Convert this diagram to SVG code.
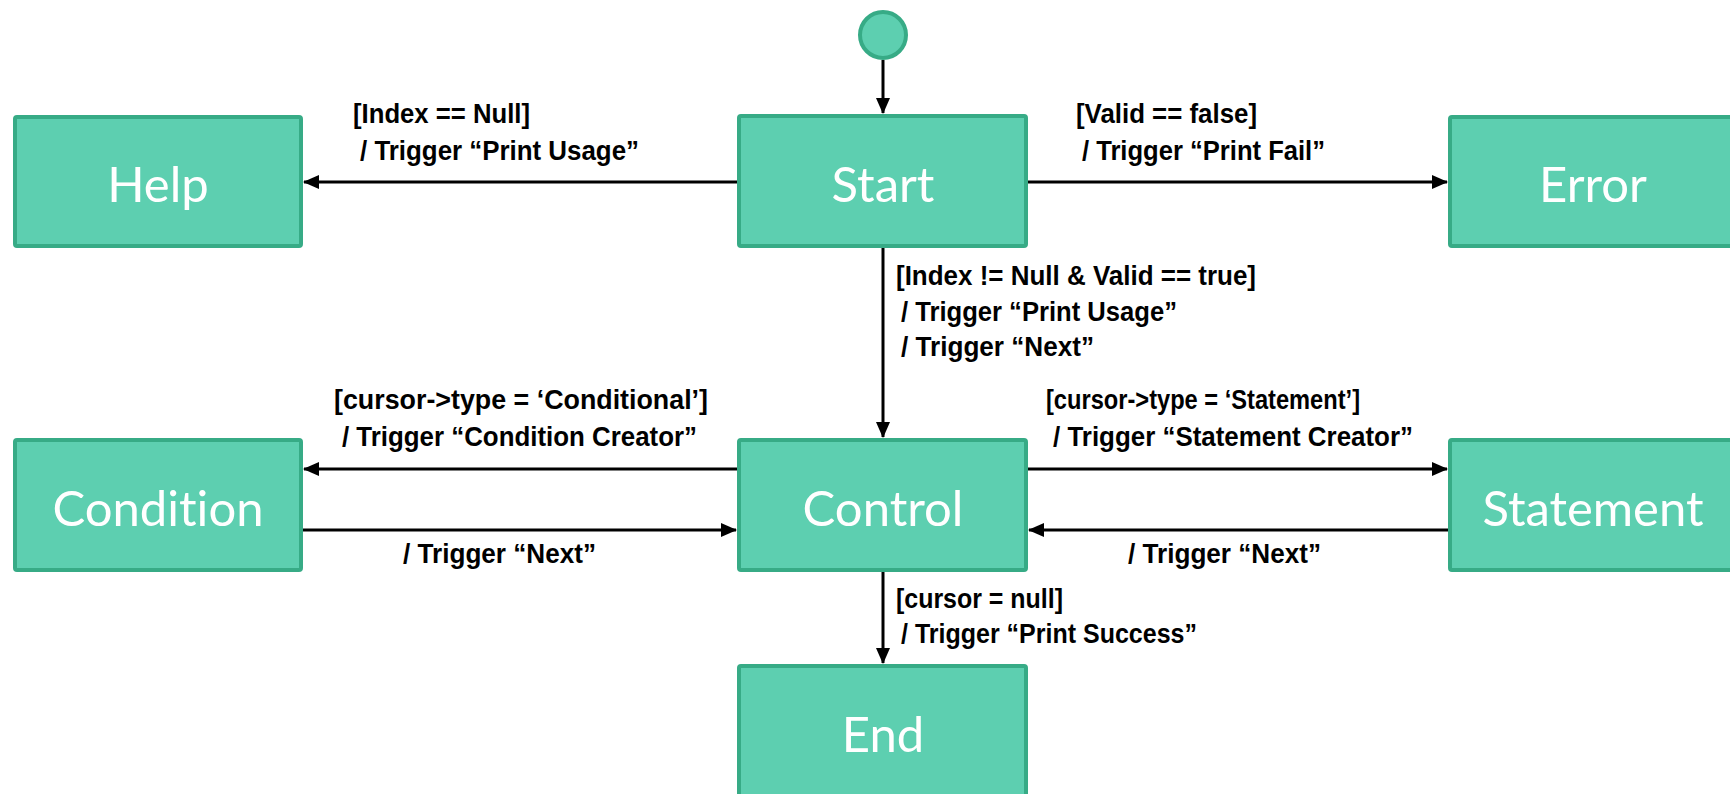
<svg xmlns="http://www.w3.org/2000/svg" width="1730" height="794" viewBox="0 0 1730 794">
<style>
.box{fill:#5DCFB0;stroke:#37AB86;stroke-width:4}
.nt{font-family:Lato,"Open Sans",sans-serif;font-size:49px;fill:#ffffff;text-anchor:middle;font-variant-ligatures:none}
.lb{font-family:"Liberation Sans",Arial,sans-serif;font-weight:bold;font-size:27px;fill:#000000}
.ln{stroke:#000;stroke-width:3;fill:none;marker-end:url(#ah)}
</style>
<defs>
<marker id="ah" markerWidth="16" markerHeight="14" refX="15" refY="7" orient="auto" markerUnits="userSpaceOnUse">
<path d="M0,0 L16,7 L0,14 Z" fill="#000"/>
</marker>
</defs>
<rect width="1730" height="794" fill="#ffffff"/>
<g id="connectors">
<line class="ln" x1="883" y1="60" x2="883" y2="113"/>
<line class="ln" x1="737" y1="182" x2="304" y2="182"/>
<line class="ln" x1="1028" y1="182" x2="1447" y2="182"/>
<line class="ln" x1="883" y1="248" x2="883" y2="437"/>
<line class="ln" x1="737" y1="469" x2="304" y2="469"/>
<line class="ln" x1="303" y1="530" x2="736" y2="530"/>
<line class="ln" x1="1028" y1="469" x2="1447" y2="469"/>
<line class="ln" x1="1448" y1="530" x2="1029" y2="530"/>
<line class="ln" x1="883" y1="572" x2="883" y2="663"/>
<g id="labels">
<text class="lb" x="353" y="123" textLength="177" lengthAdjust="spacingAndGlyphs">[Index == Null]</text>
<text class="lb" x="360" y="160" textLength="279" lengthAdjust="spacingAndGlyphs">/ Trigger “Print Usage”</text>
<text class="lb" x="1076" y="123" textLength="181" lengthAdjust="spacingAndGlyphs">[Valid == false]</text>
<text class="lb" x="1082" y="160" textLength="243" lengthAdjust="spacingAndGlyphs">/ Trigger “Print Fail”</text>
<text class="lb" x="896" y="285" textLength="360" lengthAdjust="spacingAndGlyphs">[Index != Null &amp; Valid == true]</text>
<text class="lb" x="901" y="321" textLength="276" lengthAdjust="spacingAndGlyphs">/ Trigger “Print Usage”</text>
<text class="lb" x="901" y="356" textLength="193" lengthAdjust="spacingAndGlyphs">/ Trigger “Next”</text>
<text class="lb" x="334" y="409" textLength="374" lengthAdjust="spacingAndGlyphs">[cursor-&gt;type = ‘Conditional’]</text>
<text class="lb" x="342" y="446" textLength="355" lengthAdjust="spacingAndGlyphs">/ Trigger “Condition Creator”</text>
<text class="lb" x="1046" y="409" textLength="314" lengthAdjust="spacingAndGlyphs">[cursor-&gt;type = ‘Statement’]</text>
<text class="lb" x="1053" y="446" textLength="360" lengthAdjust="spacingAndGlyphs">/ Trigger “Statement Creator”</text>
<text class="lb" x="403" y="563" textLength="193" lengthAdjust="spacingAndGlyphs">/ Trigger “Next”</text>
<text class="lb" x="1128" y="563" textLength="193" lengthAdjust="spacingAndGlyphs">/ Trigger “Next”</text>
<text class="lb" x="896" y="608" textLength="167" lengthAdjust="spacingAndGlyphs">[cursor = null]</text>
<text class="lb" x="901" y="643" textLength="296" lengthAdjust="spacingAndGlyphs">/ Trigger “Print Success”</text>
</g>
</g>
<g id="initial"><circle cx="883" cy="35" r="23" fill="#5DCFB0" stroke="#37AB86" stroke-width="4"/></g>
<g id="start"><rect class="box" x="739" y="116" width="287" height="130" rx="2"/><text class="nt" x="883" y="202">Start</text></g>
<g id="help"><rect class="box" x="15" y="117" width="286" height="129" rx="2"/><text class="nt" x="158" y="202">Help</text></g>
<g id="error"><rect class="box" x="1450" y="117" width="286" height="129" rx="2"/><text class="nt" x="1593" y="202">Error</text></g>
<g id="control"><rect class="box" x="739" y="440" width="287" height="130" rx="2"/><text class="nt" x="883" y="526">Control</text></g>
<g id="condition"><rect class="box" x="15" y="440" width="286" height="130" rx="2"/><text class="nt" x="158" y="526">Condition</text></g>
<g id="statement"><rect class="box" x="1450" y="440" width="286" height="130" rx="2"/><text class="nt" x="1593" y="526">Statement</text></g>
<g id="end"><rect class="box" x="739" y="666" width="287" height="130" rx="2"/><text class="nt" x="883" y="752">End</text></g>
</svg>
